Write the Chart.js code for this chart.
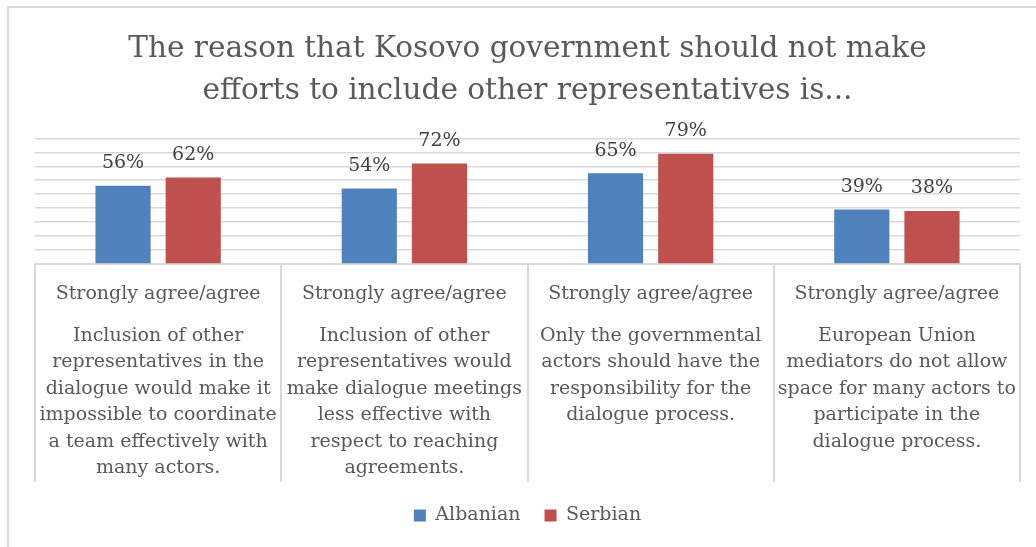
<!DOCTYPE html>
<html>
<head>
<meta charset="utf-8">
<script src="https://cdn.jsdelivr.net/npm/chart.js@4/dist/chart.umd.min.js"></script>
<style>
  html, body { margin: 0; padding: 0; background: #fff; overflow: hidden; }
  #frame { position: absolute; left: 7px; top: 6px; width: 1100px; height: 600px; border: 2px solid #d9d9d9; }
  #wrap { position: absolute; left: 0; top: 0; width: 1036px; height: 547px; }
</style>
</head>
<body>
<div id="frame"></div>
<div id="wrap"><canvas id="reasonChart"></canvas></div>
<script>
const titleLines = ['The reason that Kosovo government should not make', 'efforts to include other representatives is...'];
const groupLabel = 'Strongly agree/agree';
const statements = [
    ['Inclusion of other', 'representatives in the', 'dialogue would make it', 'impossible to coordinate', 'a team effectively with', 'many actors.'],
    ['Inclusion of other', 'representatives would', 'make dialogue meetings', 'less effective with', 'respect to reaching', 'agreements.'],
    ['Only the governmental', 'actors should have the', 'responsibility for the', 'dialogue process.'],
    ['European Union', 'mediators do not allow', 'space for many actors to', 'participate in the', 'dialogue process.']
];
const albanian = [56, 54, 65, 39];
const serbian = [62, 72, 79, 38];

const serif = "'DejaVu Serif', serif";
const textGray = '#595959';

// value labels above each bar
const barValues = {
    id: 'barValues',
    afterDatasetsDraw(chart) {
        const ctx = chart.ctx;
        ctx.save();
        ctx.font = '19px ' + serif;
        ctx.fillStyle = '#404040';
        ctx.textAlign = 'center';
        ctx.textBaseline = 'bottom';
        chart.data.datasets.forEach((ds, di) => {
            chart.getDatasetMeta(di).data.forEach((bar, i) => {
                ctx.fillText(ds.data[i] + '%', bar.x, bar.y - 13);
            });
        });
        ctx.restore();
    }
};

// two-level category text under the axis
const categoryText = {
    id: 'categoryText',
    afterDraw(chart) {
        const ctx = chart.ctx;
        const x = chart.scales.x;
        ctx.save();
        ctx.font = '19px ' + serif;
        ctx.fillStyle = textGray;
        ctx.textAlign = 'center';
        ctx.textBaseline = 'middle';
        statements.forEach((lines, i) => {
            const cx = x.getPixelForValue(i);
            ctx.fillText(groupLabel, cx, x.top + 30);
            lines.forEach((ln, j) => {
                ctx.fillText(ln, cx, x.top + 72 + j * 26.5);
            });
        });
        ctx.restore();
    }
};

new Chart(document.getElementById('reasonChart'), {
    type: 'bar',
    data: {
        labels: statements.map(() => groupLabel),
        datasets: [
            { label: 'Albanian', data: albanian, backgroundColor: '#4f81bd' },
            { label: 'Serbian', data: serbian, backgroundColor: '#c0504d' }
        ]
    },
    options: {
        responsive: true,
        maintainAspectRatio: false,
        animation: false,
        categoryPercentage: 0.57,
        barPercentage: 0.786,
        layout: { padding: { left: 35, right: 16, top: 0, bottom: 12 } },
        plugins: {
            title: {
                display: true,
                text: titleLines,
                color: textGray,
                font: { family: serif, size: 29.5, weight: 'normal', lineHeight: 1.43 },
                padding: { top: 28, bottom: 26 }
            },
            legend: {
                position: 'bottom',
                labels: {
                    color: textGray,
                    font: { family: serif, size: 19 },
                    boxWidth: 12,
                    boxHeight: 12,
                    padding: 24
                }
            },
            tooltip: { enabled: false }
        },
        scales: {
            x: {
                grid: { drawOnChartArea: false, color: '#d9d9d9', lineWidth: 2, tickLength: 218 },
                border: { color: '#d9d9d9', width: 2 },
                ticks: { display: false }
            },
            y: {
                min: 0,
                max: 90,
                ticks: { display: false, stepSize: 10 },
                grid: { color: '#d9d9d9', lineWidth: 1.5, drawTicks: false },
                border: { display: false }
            }
        }
    },
    plugins: [barValues, categoryText]
});
</script>
</body>
</html>
